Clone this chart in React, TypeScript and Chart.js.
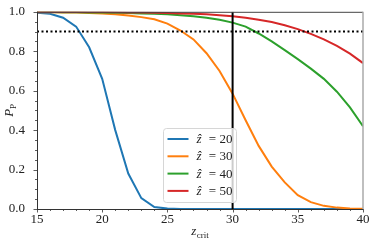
import React, { useEffect, useRef } from 'react';
import { Chart, registerables } from 'chart.js';

Chart.register(...registerables);

// ---------------- data ----------------
const zCrit = [15, 16, 17, 18, 19, 20, 21, 22, 23, 24, 25, 26, 27, 28, 29, 30, 31, 32, 33, 34, 35, 36, 37, 38, 39, 40];
const zHatLabels = ['20', '30', '40', '50'];
const pZ20 = [0.995, 0.99, 0.97, 0.925, 0.82, 0.66, 0.40, 0.18, 0.055, 0.01, 0.002, 0, 0, 0, 0, 0, 0, 0, 0, 0, 0, 0, 0, 0, 0, 0];
const pZ30 = [0.998, 0.998, 0.997, 0.996, 0.994, 0.991, 0.987, 0.981, 0.973, 0.962, 0.94, 0.905, 0.86, 0.79, 0.70, 0.585, 0.45, 0.32, 0.215, 0.135, 0.07, 0.035, 0.016, 0.007, 0.003, 0.001];
const pZ40 = [0.999, 0.999, 0.998, 0.998, 0.997, 0.996, 0.995, 0.994, 0.992, 0.99, 0.987, 0.983, 0.977, 0.97, 0.96, 0.945, 0.925, 0.89, 0.85, 0.806, 0.76, 0.712, 0.66, 0.595, 0.515, 0.42];
const pZ50 = [0.999, 0.999, 0.999, 0.999, 0.999, 0.999, 0.998, 0.997, 0.996, 0.995, 0.994, 0.992, 0.99, 0.987, 0.983, 0.978, 0.97, 0.96, 0.948, 0.932, 0.912, 0.888, 0.86, 0.827, 0.788, 0.74];
const seriesColors = ['#1f77b4', '#ff7f0e', '#2ca02c', '#d62728'];
const xMajorTicks = [15, 20, 25, 30, 35, 40];
const yMajorTicks = [0, 0.2, 0.4, 0.6, 0.8, 1.0];
const xRange = [15, 40];
const yRange = [0, 1];
const zCritCut = 30;
const pThreshold = 0.9;

const FONT = '"Liberation Serif", "DejaVu Serif", serif';

const decorPlugin = {
  id: 'decor',
  afterDraw(chart: any) {
    const ctx = chart.ctx as CanvasRenderingContext2D;
    const area = chart.chartArea;
    const xs = chart.scales.x;
    const ys = chart.scales.y;
    ctx.save();
    // ticks
    ctx.strokeStyle = '#333';
    ctx.lineWidth = 0.8;
    ctx.beginPath();
    for (let v = xRange[0]; v <= xRange[1]; v += 1) {
      const major = xMajorTicks.includes(v);
      const px = Math.round(xs.getPixelForValue(v)) + 0.5;
      ctx.moveTo(px, area.bottom);
      ctx.lineTo(px, area.bottom + (major ? 3.5 : 2));
    }
    for (let i = 0; i <= 20; i++) {
      const v = i * 0.05;
      const major = i % 4 === 0;
      const py = Math.round(ys.getPixelForValue(v)) + 0.5;
      ctx.moveTo(area.left, py);
      ctx.lineTo(area.left - (major ? 3.5 : 2), py);
    }
    ctx.stroke();

    // frame
    ctx.lineWidth = 1;
    ctx.strokeStyle = '#444';
    ctx.beginPath();
    ctx.moveTo(area.left, area.top + 0.5);
    ctx.lineTo(area.right, area.top + 0.5);
    ctx.stroke();
    ctx.strokeStyle = '#333';
    ctx.beginPath();
    ctx.moveTo(area.left + 0.5, area.top);
    ctx.lineTo(area.left + 0.5, area.bottom);
    ctx.moveTo(area.left, area.bottom + 0.5);
    ctx.lineTo(area.right, area.bottom + 0.5);
    ctx.stroke();
    ctx.strokeStyle = '#aaa';
    ctx.lineWidth = 1.5;
    ctx.beginPath();
    ctx.moveTo(area.right, area.top);
    ctx.lineTo(area.right, area.bottom);
    ctx.stroke();

    // legend
    const boxW = 73;
    const boxH = 74;
    const cx = (area.left + area.right) / 2;
    const bx = cx - boxW / 2;
    const by = area.bottom - 6.5 - boxH;
    ctx.beginPath();
    const r = 3;
    ctx.moveTo(bx + r, by);
    ctx.lineTo(bx + boxW - r, by);
    ctx.arcTo(bx + boxW, by, bx + boxW, by + r, r);
    ctx.lineTo(bx + boxW, by + boxH - r);
    ctx.arcTo(bx + boxW, by + boxH, bx + boxW - r, by + boxH, r);
    ctx.lineTo(bx + r, by + boxH);
    ctx.arcTo(bx, by + boxH, bx, by + boxH - r, r);
    ctx.lineTo(bx, by + r);
    ctx.arcTo(bx, by, bx + r, by, r);
    ctx.closePath();
    ctx.fillStyle = 'rgba(255,255,255,0.8)';
    ctx.fill();
    ctx.strokeStyle = '#d6d6d6';
    ctx.lineWidth = 1;
    ctx.stroke();

    zHatLabels.forEach((lab, i) => {
      const y = by + 10.5 + i * 17.3;
      ctx.strokeStyle = seriesColors[i];
      ctx.lineWidth = 2;
      ctx.beginPath();
      ctx.moveTo(bx + 4, y);
      ctx.lineTo(bx + 25, y);
      ctx.stroke();
      ctx.fillStyle = '#222';
      ctx.textBaseline = 'middle';
      ctx.textAlign = 'left';
      ctx.font = `italic 13px ${FONT}`;
      ctx.fillText('\u1E91', bx + 33, y + 0.5);
      ctx.font = `13px ${FONT}`;
      ctx.textAlign = 'center';
      ctx.fillText('=', bx + 49, y + 0.5);
      ctx.textAlign = 'left';
      ctx.fillText(lab, bx + 56, y + 0.5);
    });

    // x axis title
    ctx.fillStyle = '#222';
    ctx.textBaseline = 'alphabetic';
    ctx.textAlign = 'left';
    ctx.font = `italic 13px ${FONT}`;
    const zW = ctx.measureText('z').width;
    ctx.font = `9px ${FONT}`;
    const cW = ctx.measureText('crit').width;
    const tx = cx - (zW + cW + 0.5) / 2;
    ctx.font = `italic 13px ${FONT}`;
    ctx.fillText('z', tx, 235);
    ctx.font = `9px ${FONT}`;
    ctx.fillText('crit', tx + zW + 0.5, 238);

    // y axis title
    ctx.save();
    const cy = (area.top + area.bottom) / 2;
    ctx.translate(13, cy);
    ctx.rotate(-Math.PI / 2);
    ctx.font = `italic 13px ${FONT}`;
    const pW = ctx.measureText('P').width;
    ctx.font = `9px ${FONT}`;
    const sW = ctx.measureText('P').width;
    const ox = -(pW + sW) / 2;
    ctx.font = `italic 13px ${FONT}`;
    ctx.fillText('P', ox, 0);
    ctx.font = `9px ${FONT}`;
    ctx.fillText('P', ox + pW, 3);
    ctx.restore();

    ctx.restore();
  },
};

export default function App() {
  const ref = useRef<HTMLCanvasElement | null>(null);
  useEffect(() => {
    document.body.style.margin = '0';
    if (!ref.current) return;
    const series = [pZ20, pZ30, pZ40, pZ50];
    const datasets: any[] = series.map((vals, i) => ({
      label: `\u1E91 = ${zHatLabels[i]}`,
      data: zCrit.map((x, j) => ({ x, y: vals[j] })),
      borderColor: seriesColors[i],
      backgroundColor: seriesColors[i],
      borderWidth: 2,
      pointRadius: 0,
      tension: 0,
      fill: false,
      order: 4 - i,
    }));
    datasets.push({
      label: 'cut',
      data: [{ x: zCritCut, y: yRange[0] }, { x: zCritCut, y: yRange[1] }],
      borderColor: '#000',
      borderWidth: 2,
      pointRadius: 0,
      order: 0,
    });
    datasets.push({
      label: 'threshold',
      data: [{ x: xRange[0], y: pThreshold }, { x: xRange[1], y: pThreshold }],
      borderColor: '#000',
      borderWidth: 2,
      borderDash: [2, 2.5],
      pointRadius: 0,
      order: 0,
    });
    const chart = new Chart(ref.current, {
      type: 'line',
      data: { datasets },
      options: {
        responsive: false,
        animation: false,
        layout: { padding: { left: 0, right: 11, top: 9, bottom: 0 } },
        plugins: { legend: { display: false }, tooltip: { enabled: false } },
        scales: {
          x: {
            type: 'linear',
            min: xRange[0],
            max: xRange[1],
            grid: { display: false },
            border: { display: false },
            ticks: {
              stepSize: 5,
              autoSkip: false,
              maxRotation: 0,
              padding: -5,
              color: '#222',
              font: { family: FONT, size: 13 },
              callback: (v: any) => (xMajorTicks.includes(Number(v)) ? String(v) : ''),
            },
            afterFit: (s: any) => {
              s.height = 34;
            },
          },
          y: {
            type: 'linear',
            min: yRange[0],
            max: yRange[1],
            grid: { display: false },
            border: { display: false },
            ticks: {
              stepSize: 0.2,
              autoSkip: false,
              padding: 4,
              color: '#222',
              font: { family: FONT, size: 13 },
              callback: (v: any) => Number(v).toFixed(1),
            },
            afterFit: (s: any) => {
              s.width = 37;
            },
          },
        },
      },
      plugins: [decorPlugin],
    });
    return () => chart.destroy();
  }, []);
  return (
    <div style={{ width: 374, height: 243 }}>
      <canvas ref={ref} width={374} height={243} />
    </div>
  );
}
